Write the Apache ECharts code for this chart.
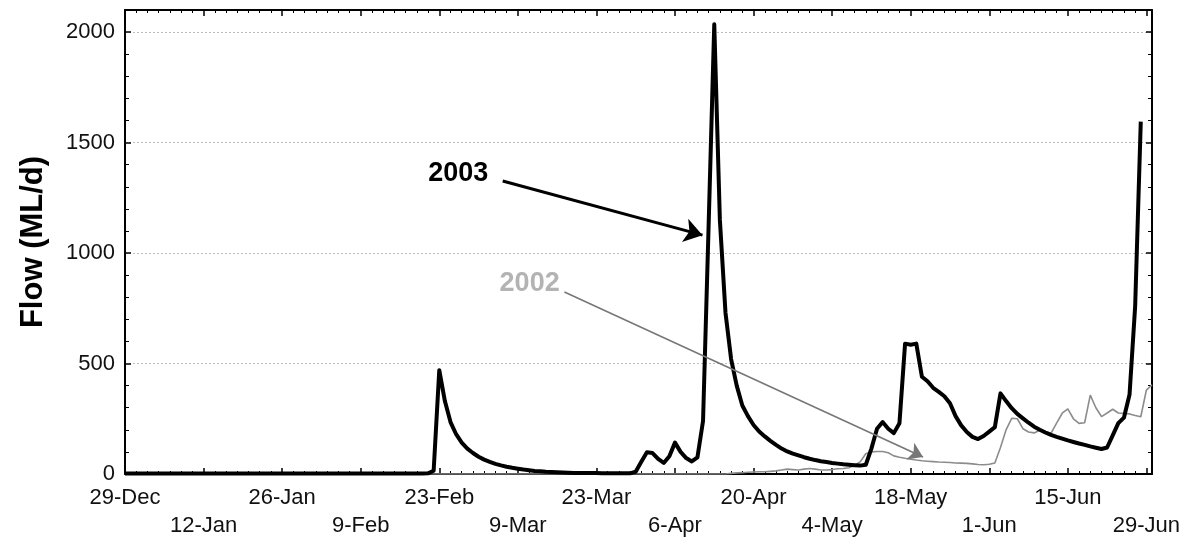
<!DOCTYPE html>
<html>
<head>
<meta charset="utf-8">
<script src="https://cdn.jsdelivr.net/npm/echarts@6/dist/echarts.min.js"></script>
<style>
html,body{margin:0;padding:0;background:#fff;}
#chart{width:1194px;height:544px;}
</style>
</head>
<body>
<div id="chart"></div>
<script>
// Day 0 = 29-Dec; one value per day
var tickLabels = ['29-Dec','12-Jan','26-Jan','9-Feb','23-Feb','9-Mar','23-Mar','6-Apr','20-Apr','4-May','18-May','1-Jun','15-Jun','29-Jun'];

var flow2003 = [
  2,2,2,2,2,2,2,2,2,2, 2,2,2,2,2,2,2,2,2,2, 2,2,2,2,2,2,2,2,2,2,
  2,2,2,2,2,2,2,2,2,2, 2,2,2,2,2,2,2,2,2,2, 2,2,2,2,
  3,15,470,330,235,180,142,115,95,78,
  65,55,46,39,33,28,24,20,17,14,
  12,10,9,8,7,6,5,5,4,4,
  4,3,3,3,3,3,3,10,55,98,
  95,68,50,80,142,100,72,57,75,240,
  1130,2035,1150,730,520,400,310,262,222,192,
  170,150,132,115,102,92,84,76,69,63,
  58,54,50,47,44,42,40,38,42,115,
  205,235,205,185,230,590,585,590,440,420,
  390,372,352,320,262,220,190,168,158,172,
  192,212,365,330,298,272,252,232,214,200,
  188,177,168,160,152,145,138,132,125,119,
  113,120,175,230,255,360,760,1595
];

var flow2002 = [
  0,0,0,0,0,0,0,0,0,0, 0,0,0,0,0,0,0,0,0,0, 0,0,0,0,0,0,0,0,0,0,
  0,0,0,0,0,0,0,0,0,0, 0,0,0,0,0,0,0,0,0,0, 0,0,0,0,0,0,0,0,0,0,
  0,0,0,0,0,0,0,0,0,0, 0,0,0,0,0,0,0,0,0,0, 0,0,0,0,0,0,0,0,0,0,
  0,0,0,0,0,0,0,0,0,0, 0,0,0,0,0,0,0,0,
  3,5,6,8,9,10,10,12,14,18,
  22,20,18,22,25,22,18,18,20,24,
  25,28,40,55,92,100,102,102,96,82,
  76,71,67,63,60,58,56,54,53,52,
  50,49,48,46,43,42,44,50,120,200,
  252,250,205,190,186,198,192,184,230,275,
  295,250,229,232,357,300,260,276,293,276,
  274,272,265,259,380,403
];

// annotation anchors in data units [day, flow]
var label2003 = [59.4, 1362];
var arrow2003 = [[67.3, 1326], [102.9, 1081]];
var label2002 = [72.1, 864];
var arrow2002 = [[78.3, 824], [142.2, 77]];

var chart = echarts.init(document.getElementById('chart'), null, {renderer: 'canvas'});
var font = 'Liberation Sans, Arial, Helvetica, sans-serif';

function xAxisBase(pos, showLabel) {
  return {
    type: 'value', position: pos, min: 0, max: 183, interval: 14,
    axisLine: {show: true, onZero: false, lineStyle: {color: '#000', width: 2}},
    axisTick: {show: true, inside: true, length: 6, lineStyle: {color: '#000', width: 1.5}},
    minorTick: {show: true, splitNumber: 7, length: 3, lineStyle: {color: '#000', width: 1}},
    splitLine: {show: false},
    axisLabel: {
      show: showLabel, fontFamily: font, fontSize: 22, color: '#111', margin: 10, lineHeight: 28,
      formatter: function (v) {
        if (v % 14 !== 0) return '';
        var i = v / 14;
        var s = tickLabels[i] || '';
        return (i % 2 === 1) ? '\n' + s : s;
      }
    }
  };
}
function yAxisBase(pos, showLabel) {
  return {
    type: 'value', position: pos, min: 0, max: 2100, interval: 500,
    axisLine: {show: true, onZero: false, lineStyle: {color: '#000', width: 2}},
    axisTick: {show: true, inside: true, length: 6, lineStyle: {color: '#000', width: 1.5}},
    minorTick: {show: true, splitNumber: 5, length: 4, lineStyle: {color: '#000', width: 1}},
    splitLine: {show: showLabel, lineStyle: {color: '#bdbdbd', width: 1, type: [2, 2]}},
    axisLabel: {
      show: showLabel, fontFamily: font, fontSize: 22, color: '#111', margin: 10,
      formatter: function (v) { return v % 500 === 0 ? String(v) : ''; }
    }
  };
}

var yLeft = yAxisBase('left', true);
yLeft.name = 'Flow (ML/d)';
yLeft.nameLocation = 'middle';
yLeft.nameGap = 76;
yLeft.nameTextStyle = {fontFamily: font, fontSize: 31, fontWeight: 'bold', color: '#000'};

chart.setOption({
  animation: false,
  backgroundColor: '#fff',
  grid: {left: 125, right: 42, top: 10, bottom: 70, containLabel: false},
  xAxis: [xAxisBase('bottom', true), xAxisBase('top', false)],
  yAxis: [yLeft, yAxisBase('right', false)],
  series: [
    {
      name: '2002', type: 'line', xAxisIndex: 0, yAxisIndex: 0, z: 2,
      data: flow2002.map(function (v, i) { return [i, v]; }),
      showSymbol: false, lineStyle: {color: '#8c8c8c', width: 1.6}, itemStyle: {color: '#8c8c8c'},
      markLine: {
        silent: true, symbol: ['none', 'arrow'], symbolSize: 14,
        itemStyle: {color: '#777'},
        lineStyle: {color: '#777', width: 1.6, type: 'solid'}, label: {show: false},
        data: [[{coord: arrow2002[0]}, {coord: arrow2002[1]}]]
      },
      markPoint: {
        silent: true, symbol: 'rect', symbolSize: 1, itemStyle: {color: 'rgba(0,0,0,0)'},
        label: {show: true, position: 'inside', formatter: '2002', fontFamily: font, fontSize: 27, fontWeight: 'bold', color: '#b3b3b3'},
        data: [{coord: label2002}]
      }
    },
    {
      name: '2003', type: 'line', xAxisIndex: 0, yAxisIndex: 0, z: 3,
      data: flow2003.map(function (v, i) { return [i, v]; }),
      showSymbol: false, lineStyle: {color: '#000', width: 4, join: 'round'}, itemStyle: {color: '#000'},
      markLine: {
        silent: true, symbol: ['none', 'arrow'], symbolSize: 18,
        itemStyle: {color: '#000'},
        lineStyle: {color: '#000', width: 3, type: 'solid'}, label: {show: false},
        data: [[{coord: arrow2003[0]}, {coord: arrow2003[1]}]]
      },
      markPoint: {
        silent: true, symbol: 'rect', symbolSize: 1, itemStyle: {color: 'rgba(0,0,0,0)'},
        label: {show: true, position: 'inside', formatter: '2003', fontFamily: font, fontSize: 27, fontWeight: 'bold', color: '#000'},
        data: [{coord: label2003}]
      }
    }
  ]
});
</script>
</body>
</html>
